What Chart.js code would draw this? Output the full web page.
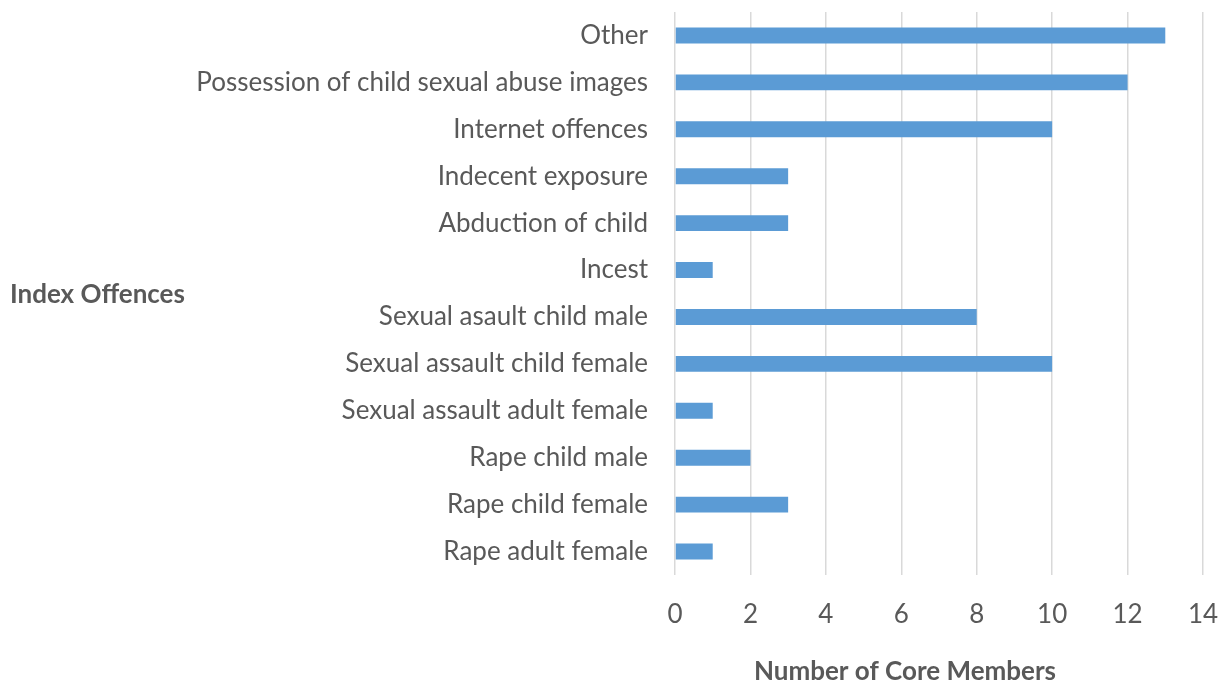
<!DOCTYPE html>
<html>
<head>
<meta charset="utf-8">
<script src="https://cdn.jsdelivr.net/npm/chart.js@4"></script>
<style>
  html, body { margin: 0; padding: 0; background: #fff; }
  #wrap { width: 1225px; height: 685px; }
</style>
</head>
<body>
<div id="wrap"><canvas id="grafico"></canvas></div>
<script>
// datos del gráfico
const categorias = [
    'Other',
    'Possession of child sexual abuse images',
    'Internet offences',
    'Indecent exposure',
    'Abduction of child',
    'Incest',
    'Sexual asault child male',
    'Sexual assault child female',
    'Sexual assault adult female',
    'Rape child male',
    'Rape child female',
    'Rape adult female'
];
const miembros = [13, 12, 10, 3, 3, 1, 8, 10, 1, 2, 3, 1];
const ejeX = { min: 0, max: 14, paso: 2 };
const tituloEjeX = 'Number of Core Members';
const tituloEjeY = 'Index Offences';

const fuente = 'Lato, "Open Sans", sans-serif';
const gris = '#595959';

// títulos de los ejes dibujados a mano, como en el original
const titulos = {
    id: 'titulos',
    afterDraw(chart) {
        const c = chart.ctx;
        c.save();
        c.font = 'bold 26px ' + fuente;
        c.fillStyle = gris;
        c.textBaseline = 'middle';
        c.textAlign = 'left';
        c.fillText(tituloEjeY, 10, 295);
        c.textAlign = 'center';
        c.fillText(tituloEjeX, 905, 672);
        c.restore();
    }
};

const ctx = document.getElementById('grafico').getContext('2d');
new Chart(ctx, {
    type: 'bar',
    data: {
        labels: categorias,
        datasets: [{
            label: tituloEjeX,
            data: miembros,
            backgroundColor: '#5b9bd5',
            borderWidth: 0,
            barPercentage: 0.34,
            categoryPercentage: 1
        }]
    },
    options: {
        indexAxis: 'y',
        responsive: true,
        maintainAspectRatio: false,
        animation: false,
        layout: { padding: { top: 12, right: 22, bottom: 0, left: 0 } },
        plugins: {
            legend: { display: false },
            tooltip: { enabled: false }
        },
        scales: {
            x: {
                min: ejeX.min,
                max: ejeX.max,
                ticks: {
                    stepSize: ejeX.paso,
                    padding: 24,
                    color: gris,
                    font: { family: fuente, size: 26 }
                },
                grid: { color: '#d9d9d9', lineWidth: 1.5, drawTicks: false },
                border: { display: false },
                afterFit(scale) {
                    scale.height = 110;
                    scale.paddingLeft = 0;
                    scale.paddingRight = 0;
                }
            },
            y: {
                ticks: {
                    padding: 27,
                    color: gris,
                    font: { family: fuente, size: 26 }
                },
                grid: { display: false, drawTicks: false },
                border: { display: false },
                afterFit(scale) {
                    scale.width = 675;
                    scale.paddingTop = 0;
                    scale.paddingBottom = 0;
                }
            }
        }
    },
    plugins: [titulos]
});
</script>
</body>
</html>
